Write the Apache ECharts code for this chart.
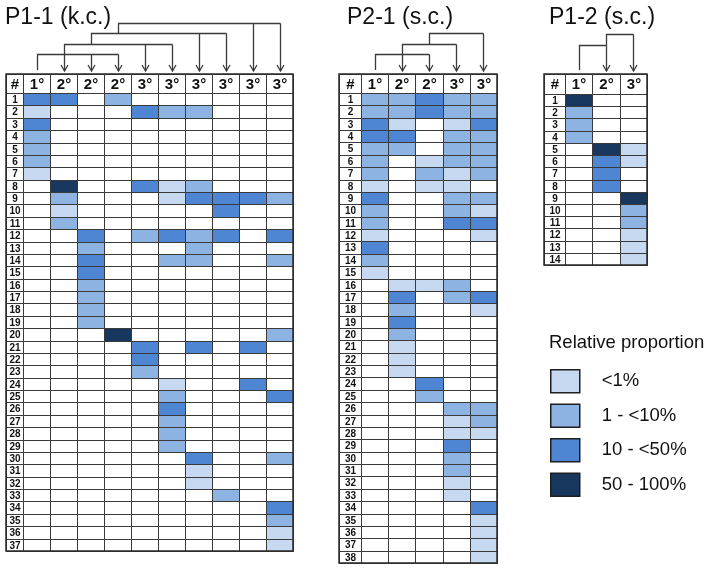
<!DOCTYPE html>
<html><head><meta charset="utf-8">
<script src="https://cdn.jsdelivr.net/npm/echarts@6/dist/echarts.min.js"></script>
<style>html,body{margin:0;padding:0;background:#fff}#c{width:709px;height:572px}</style>
</head><body><div id="c"></div>
<script>
// ---- legend categories ----
const levelNames = ['<1%', '1 - <10%', '10 - <50%', '50 - 100%'];
const levelColors = ['#c6d9f1', '#8db3e2', '#4f86d3', '#17375e'];
const legendTitle = 'Relative proportion';

// ---- P1-1 (k.c.) ----
const p11Title = 'P1-1 (k.c.)';
const p11Cols = ['1°', '2°', '2°', '2°', '3°', '3°', '3°', '3°', '3°', '3°'];
const p11Rows = ['1','2','3','4','5','6','7','8','9','10','11','12','13','14','15','16','17','18','19','20','21','22','23','24','25','26','27','28','29','30','31','32','33','34','35','36','37'];
// level per cell: 0 none, 1 <1%, 2 1-<10%, 3 10-<50%, 4 50-100%
const p11Levels = [
  [3,3,0,2,0,0,0,0,0,0],
  [1,0,0,0,3,2,2,0,0,0],
  [3,0,0,0,0,0,0,0,0,0],
  [2,0,0,0,0,0,0,0,0,0],
  [2,0,0,0,0,0,0,0,0,0],
  [2,0,0,0,0,0,0,0,0,0],
  [1,0,0,0,0,0,0,0,0,0],
  [0,4,0,0,3,1,2,0,0,0],
  [0,2,0,0,0,1,3,3,3,2],
  [0,1,0,0,0,0,0,3,0,0],
  [0,2,0,0,0,0,0,0,0,0],
  [0,0,3,0,2,3,2,3,0,3],
  [0,0,2,0,0,0,2,0,0,0],
  [0,0,3,0,0,2,2,0,0,2],
  [0,0,3,0,0,0,0,0,0,0],
  [0,0,2,0,0,0,0,0,0,0],
  [0,0,2,0,0,0,0,0,0,0],
  [0,0,2,0,0,0,0,0,0,0],
  [0,0,2,0,0,0,0,0,0,0],
  [0,0,0,4,0,0,0,0,0,2],
  [0,0,0,0,3,0,3,0,3,0],
  [0,0,0,0,3,0,0,0,0,0],
  [0,0,0,0,2,0,0,0,0,0],
  [0,0,0,0,0,1,0,0,3,0],
  [0,0,0,0,0,2,0,0,0,3],
  [0,0,0,0,0,3,0,0,0,0],
  [0,0,0,0,0,2,0,0,0,0],
  [0,0,0,0,0,2,0,0,0,0],
  [0,0,0,0,0,2,0,0,0,0],
  [0,0,0,0,0,0,3,0,0,2],
  [0,0,0,0,0,0,1,0,0,0],
  [0,0,0,0,0,0,1,0,0,0],
  [0,0,0,0,0,0,0,2,0,0],
  [0,0,0,0,0,0,0,0,0,3],
  [0,0,0,0,0,0,0,0,0,2],
  [0,0,0,0,0,0,0,0,0,1],
  [0,0,0,0,0,0,0,0,0,1]
];
// [source column, target columns]; array order = bracket level (bottom first)
const p11Brackets = [[0, [1, 2, 3]], [1, [4, 5]], [2, [6, 7]], [3, [8, 9]]];

// ---- P2-1 (s.c.) ----
const p21Title = 'P2-1 (s.c.)';
const p21Cols = ['1°', '2°', '2°', '3°', '3°'];
const p21Rows = ['1','2','3','4','5','6','7','8','9','10','11','12','13','14','15','16','17','18','19','20','21','22','23','24','25','26','27','28','29','30','31','32','33','34','35','36','37','38'];
const p21Levels = [
  [2,2,3,2,2],
  [2,2,3,2,2],
  [3,1,0,1,3],
  [3,3,0,2,2],
  [2,2,0,2,2],
  [2,0,1,2,2],
  [2,0,2,1,2],
  [1,0,1,1,0],
  [3,0,0,2,2],
  [2,0,0,2,1],
  [2,0,0,3,3],
  [1,0,0,0,1],
  [3,0,0,0,0],
  [2,0,0,0,0],
  [1,0,0,0,0],
  [0,1,1,2,0],
  [0,3,0,2,3],
  [0,2,0,0,1],
  [0,3,0,0,0],
  [0,2,0,0,0],
  [0,1,0,0,0],
  [0,1,0,0,0],
  [0,1,0,0,0],
  [0,0,3,0,0],
  [0,0,2,0,0],
  [0,0,0,2,2],
  [0,0,0,1,2],
  [0,0,0,1,1],
  [0,0,0,3,0],
  [0,0,0,2,0],
  [0,0,0,2,0],
  [0,0,0,1,0],
  [0,0,0,1,0],
  [0,0,0,0,3],
  [0,0,0,0,1],
  [0,0,0,0,1],
  [0,0,0,0,1],
  [0,0,0,0,1]
];
const p21Brackets = [[0, [1, 2]], [1, [3]], [2, [4]]];

// ---- P1-2 (s.c.) ----
const p12Title = 'P1-2 (s.c.)';
const p12Cols = ['1°', '2°', '3°'];
const p12Rows = ['1','2','3','4','5','6','7','8','9','10','11','12','13','14'];
const p12Levels = [
  [4,0,0],
  [2,0,0],
  [2,0,0],
  [2,0,0],
  [0,4,1],
  [0,3,1],
  [0,3,0],
  [0,3,0],
  [0,0,4],
  [0,0,2],
  [0,0,2],
  [0,0,1],
  [0,0,1],
  [0,0,1]
];
const p12Brackets = [[0, [1]], [1, [2]]];

// ---- layout (styles only) ----
const tables = [
  {title: p11Title, cols: p11Cols, rows: p11Rows, levels: p11Levels, brackets: p11Brackets,
   left: 6, top: 74, width: 287, height: 477, hashW: 0.63, hdrH: 1.535, brBase: 20, brGap: 10.5, titleLeft: 5},
  {title: p21Title, cols: p21Cols, rows: p21Rows, levels: p21Levels, brackets: p21Brackets,
   left: 339, top: 74, width: 158, height: 489, hashW: 0.81, hdrH: 1.536, brBase: 20, brGap: 10.5, titleLeft: 347},
  {title: p12Title, cols: p12Cols, rows: p12Rows, levels: p12Levels, brackets: p12Brackets,
   left: 544, top: 74, width: 103, height: 191, hashW: 0.77, hdrH: 1.64, brBase: 29, brGap: 11, titleLeft: 549}
];

const LINE = '#3a3a3a';
const snap = v => Math.round(v) + 0.5;

function rectFrom(api, xa, ya, xb, yb) {
  const a = api.coord([xa, ya]), b = api.coord([xb, yb]);
  const x0 = snap(Math.min(a[0], b[0])), x1 = snap(Math.max(a[0], b[0]));
  const y0 = snap(Math.min(a[1], b[1])), y1 = snap(Math.max(a[1], b[1]));
  return {x: x0, y: y0, width: x1 - x0, height: y1 - y0};
}

const grid = [], xAxis = [], yAxis = [], series = [], title = [];

tables.forEach((t, ti) => {
  grid.push({left: t.left, top: t.top, width: t.width, height: t.height,
             show: true, borderColor: '#2a2a2a', borderWidth: 1.5, backgroundColor: 'transparent', z: 3});
  xAxis.push({type: 'value', gridIndex: ti, min: -t.hashW, max: t.cols.length, show: false});
  yAxis.push({type: 'value', gridIndex: ti, min: -t.hdrH, max: t.rows.length, inverse: true, show: false});
  title.push({text: t.title, left: t.titleLeft, top: 6, padding: 0,
              textStyle: {fontFamily: 'Liberation Sans, Arial, sans-serif', fontSize: 23, fontWeight: 'normal', color: '#111'}});

  // data cells, one series per level
  for (let lv = 0; lv <= 4; lv++) {
    const data = [];
    t.levels.forEach((row, r) => row.forEach((v, c) => { if (v === lv) data.push([c, r]); }));
    series.push({
      type: 'custom', name: lv === 0 ? 'none' : levelNames[lv - 1],
      xAxisIndex: ti, yAxisIndex: ti, z: 2,
      itemStyle: {color: lv === 0 ? '#ffffff' : levelColors[lv - 1]},
      data: data,
      renderItem: (params, api) => {
        const x = api.value(0), y = api.value(1);
        return {type: 'rect', shape: rectFrom(api, x, y, x + 1, y + 1),
                style: {fill: api.visual('color'), stroke: LINE, lineWidth: 1}};
      }
    });
  }

  // header + row-number cells
  const labCells = [];
  labCells.push({v: [-t.hashW, -t.hdrH, 0, 0], text: '#', hdr: true});
  t.cols.forEach((c, i) => labCells.push({v: [i, -t.hdrH, i + 1, 0], text: c, hdr: true}));
  t.rows.forEach((r, i) => labCells.push({v: [-t.hashW, i, 0, i + 1], text: r, hdr: false}));
  series.push({
    type: 'custom', name: 'labels' + ti, xAxisIndex: ti, yAxisIndex: ti, z: 2,
    data: labCells.map(d => d.v),
    renderItem: (params, api) => {
      const d = labCells[params.dataIndex];
      const s = rectFrom(api, api.value(0), api.value(1), api.value(2), api.value(3));
      return {type: 'group', children: [
        {type: 'rect', shape: s, style: {fill: '#fff', stroke: LINE, lineWidth: 1}},
        {type: 'text', x: s.x + s.width / 2, y: s.y + s.height / 2 + 0.5,
         style: {text: d.text, fill: '#111', align: 'center', verticalAlign: 'middle',
                 font: d.hdr ? 'bold 15px "Liberation Sans", Arial, sans-serif'
                             : 'bold 10px "Liberation Sans Narrow", "Arial Narrow", "Liberation Sans", sans-serif'}}
      ]};
    }
  });

  // brackets with arrows
  series.push({
    type: 'custom', name: 'brackets' + ti, xAxisIndex: ti, yAxisIndex: ti, z: 4,
    data: t.brackets.map(b => [b[0], -t.hdrH]),
    renderItem: (params, api) => {
      const lvl = params.dataIndex;
      const br = t.brackets[lvl];
      const top = Math.round(api.coord([0, -t.hdrH])[1]);
      const ly = snap(top - t.brBase - lvl * t.brGap);
      const cx = c => snap(api.coord([c + 0.5, 0])[0]);
      const sx = cx(br[0]);
      const txs = br[1].map(cx);
      const lowY = lvl === 0 ? top - 4 : snap(top - t.brBase - (lvl - 1) * t.brGap);
      const st = {stroke: LINE, lineWidth: 1.3, fill: null};
      const ch = [
        {type: 'polyline', shape: {points: [[sx, lowY], [sx, ly], [Math.max.apply(null, txs), ly]]}, style: st}
      ];
      txs.forEach(tx => {
        ch.push({type: 'line', shape: {x1: tx, y1: ly, x2: tx, y2: top - 3}, style: st});
        ch.push({type: 'polyline', shape: {points: [[tx - 3.5, top - 9], [tx, top - 3], [tx + 3.5, top - 9]]}, style: st});
      });
      return {type: 'group', children: ch};
    }
  });
});

title.push({text: legendTitle, left: 549, top: 333, padding: 0,
            textStyle: {fontFamily: 'Liberation Sans, Arial, sans-serif', fontSize: 18.5, fontWeight: 'normal', color: '#111'}});

const chart = echarts.init(document.getElementById('c'), null, {renderer: 'canvas'});
chart.setOption({
  animation: false,
  backgroundColor: '#fff',
  title: title,
  grid: grid, xAxis: xAxis, yAxis: yAxis,
  legend: {
    data: levelNames, orient: 'vertical', left: 550, top: 369, padding: 0,
    icon: 'rect', itemWidth: 29, itemHeight: 23, itemGap: 10,
    itemStyle: {borderColor: '#1e1e1e', borderWidth: 1.5},
    textStyle: {fontFamily: 'Liberation Sans, Arial, sans-serif', fontSize: 18.5, color: '#111', padding: [0, 0, 0, 17]},
    selectedMode: false
  },
  series: series
});
</script></body></html>
